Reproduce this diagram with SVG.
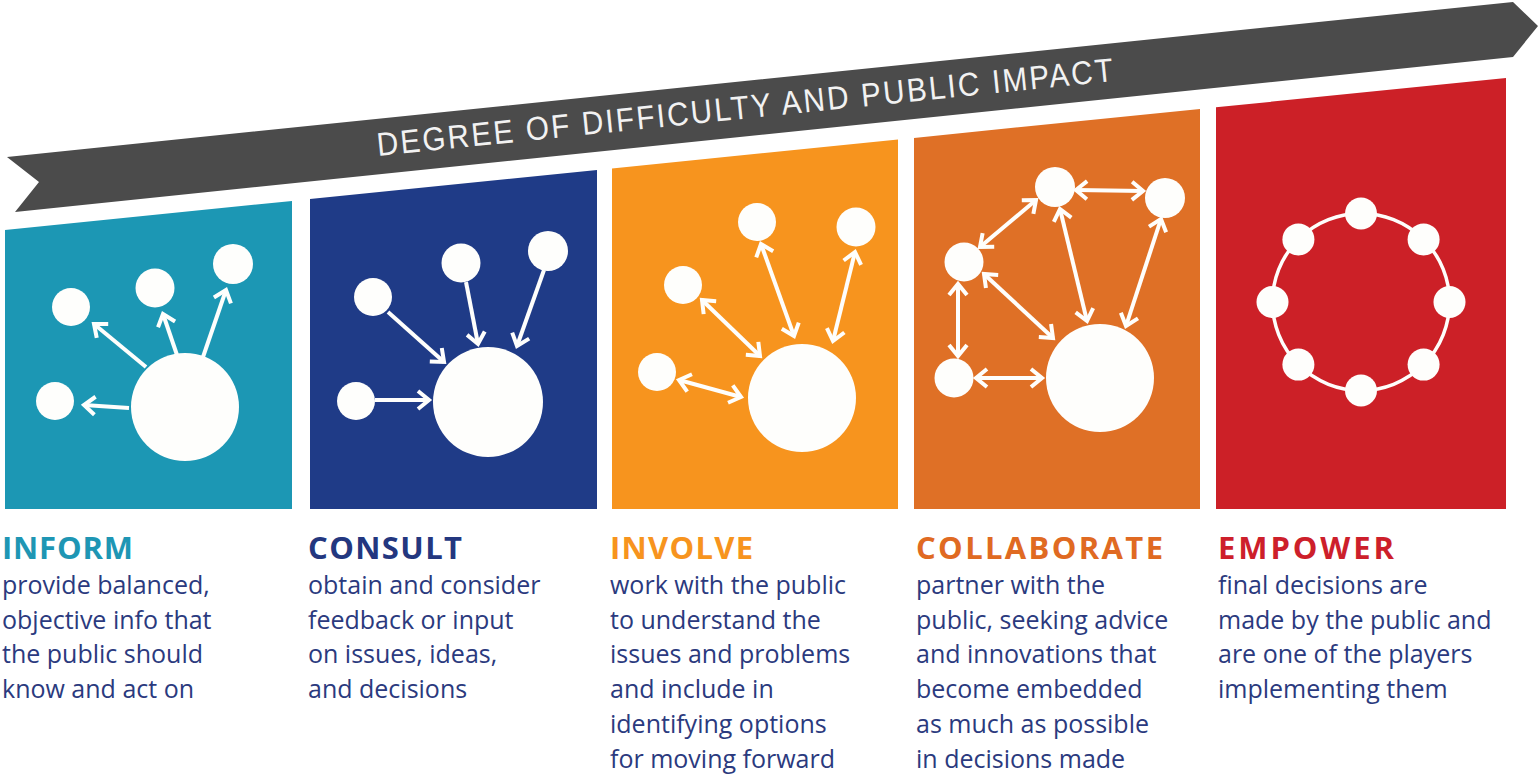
<svg xmlns="http://www.w3.org/2000/svg" width="1539" height="775" viewBox="0 0 1539 775">
<defs>
<style>
.panel-inform{fill:#1c97b4}
.panel-consult{fill:#1f3b87}
.panel-involve{fill:#f7941e}
.panel-collab{fill:#df7026}
.panel-empower{fill:#cc2027}
.dot{fill:#fefefc}
.arr{stroke:#fefefc;stroke-width:4;fill:none}
.one{marker-end:url(#ah)}
.two{marker-start:url(#ah);marker-end:url(#ah)}
.ring{fill:none;stroke:#fefefc;stroke-width:3.5}
.title{font-family:"Open Sans","Liberation Sans",sans-serif;font-weight:700;font-size:31px}
.body{font-family:"Open Sans","Liberation Sans",sans-serif;font-size:25px;fill:#2b3a7e}
.banner-text{font-family:"Liberation Sans",Arial,sans-serif;font-size:33px;fill:#f2f2f2}
</style>
<marker id="ah" viewBox="-14 -12 20 24" markerWidth="20" markerHeight="24" refX="0" refY="0" orient="auto-start-reverse" markerUnits="userSpaceOnUse">
<path d="M-11,-9 L0,0 L-11,9" fill="none" stroke="#fefefc" stroke-width="4"/>
</marker>
</defs>
<rect width="1539" height="775" fill="#ffffff"/>

<g id="banner">
<polygon points="7,157 1513,2 1538,26 1513,57 15,212 39,182" fill="#4b4b4b"/>
<text class="banner-text" transform="translate(378,156) rotate(-5.82) scale(0.9,1)" x="0" y="0" textLength="822" lengthAdjust="spacing">DEGREE OF DIFFICULTY AND PUBLIC IMPACT</text>
</g>

<g id="inform">
<polygon class="panel-inform" points="5,230 292,200.9 292,509 5,509"/>
<circle class="dot" cx="185" cy="407" r="54"/>
<circle class="dot" cx="55" cy="401" r="19"/>
<circle class="dot" cx="71" cy="307" r="19"/>
<circle class="dot" cx="155" cy="288" r="19.5"/>
<circle class="dot" cx="233" cy="264" r="20"/>
<text class="title" x="2" y="559" fill="#1e96b4" textLength="131" lengthAdjust="spacing">INFORM</text>
<text class="body" x="2" y="594">provide balanced,</text>
<text class="body" x="2" y="628.7">objective info that</text>
<text class="body" x="2" y="663.4">the public should</text>
<text class="body" x="2" y="698">know and act on</text>
</g>

<g id="consult">
<polygon class="panel-consult" points="310,199.1 597,170 597,509 310,509"/>
<circle class="dot" cx="488" cy="402" r="55"/>
<circle class="dot" cx="356" cy="401" r="19"/>
<circle class="dot" cx="373" cy="297" r="19"/>
<circle class="dot" cx="461" cy="263" r="19.5"/>
<circle class="dot" cx="548" cy="251" r="20"/>
<text class="title" x="308" y="559" fill="#23377f" textLength="154" lengthAdjust="spacing">CONSULT</text>
<text class="body" x="308" y="594">obtain and consider</text>
<text class="body" x="308" y="628.7">feedback or input</text>
<text class="body" x="308" y="663.4">on issues, ideas,</text>
<text class="body" x="308" y="698">and decisions</text>
</g>

<g id="involve">
<polygon class="panel-involve" points="612,168.5 898,139.5 898,509 612,509"/>
<circle class="dot" cx="802" cy="398" r="54"/>
<circle class="dot" cx="657" cy="372" r="19"/>
<circle class="dot" cx="683" cy="285" r="19"/>
<circle class="dot" cx="757" cy="222" r="19"/>
<circle class="dot" cx="856" cy="227" r="19.5"/>
<text class="title" x="610" y="559" fill="#f7941e" textLength="143" lengthAdjust="spacing">INVOLVE</text>
<text class="body" x="610" y="594">work with the public</text>
<text class="body" x="610" y="628.7">to understand the</text>
<text class="body" x="610" y="663.4">issues and problems</text>
<text class="body" x="610" y="698">and include in</text>
<text class="body" x="610" y="732.8">identifying options</text>
<text class="body" x="610" y="767.5">for moving forward</text>
</g>

<g id="collaborate">
<polygon class="panel-collab" points="914,137.9 1200,108.9 1200,509 914,509"/>
<circle class="dot" cx="1100" cy="378" r="54"/>
<circle class="dot" cx="1055" cy="187" r="20"/>
<circle class="dot" cx="1165" cy="198" r="20"/>
<circle class="dot" cx="964" cy="262" r="19.5"/>
<circle class="dot" cx="954" cy="378" r="19.5"/>
<text class="title" x="916" y="559" fill="#e06a22" textLength="247" lengthAdjust="spacing">COLLABORATE</text>
<text class="body" x="916" y="594">partner with the</text>
<text class="body" x="916" y="628.7">public, seeking advice</text>
<text class="body" x="916" y="663.4">and innovations that</text>
<text class="body" x="916" y="698">become embedded</text>
<text class="body" x="916" y="732.8">as much as possible</text>
<text class="body" x="916" y="767.5">in decisions made</text>
</g>

<g id="empower">
<polygon class="panel-empower" points="1216,107.3 1506,78 1506,509 1216,509"/>
<circle class="ring" cx="1361" cy="302" r="88.5"/>
<circle class="dot" cx="1361" cy="213.5" r="16"/>
<circle class="dot" cx="1423.6" cy="239.4" r="16"/>
<circle class="dot" cx="1449.5" cy="302" r="16"/>
<circle class="dot" cx="1423.6" cy="364.6" r="16"/>
<circle class="dot" cx="1361" cy="390.5" r="16"/>
<circle class="dot" cx="1298.4" cy="364.6" r="16"/>
<circle class="dot" cx="1272.5" cy="302" r="16"/>
<circle class="dot" cx="1298.4" cy="239.4" r="16"/>
<text class="title" x="1218" y="559" fill="#cd1f2b" textLength="176" lengthAdjust="spacing">EMPOWER</text>
<text class="body" x="1218" y="594">final decisions are</text>
<text class="body" x="1218" y="628.7">made by the public and</text>
<text class="body" x="1218" y="663.4">are one of the players</text>
<text class="body" x="1218" y="698">implementing them</text>
</g>

<g id="connectors">
<line class="arr one" x1="129" y1="408" x2="84" y2="405"/>
<line class="arr one" x1="146" y1="367" x2="94" y2="324"/>
<line class="arr one" x1="177" y1="355" x2="163" y2="314"/>
<line class="arr one" x1="203" y1="357" x2="226" y2="290"/>
<line class="arr one" x1="375" y1="400" x2="429" y2="400"/>
<line class="arr one" x1="388" y1="312" x2="444" y2="362"/>
<line class="arr one" x1="466" y1="282" x2="478" y2="344"/>
<line class="arr one" x1="544" y1="270" x2="517" y2="346"/>
<line class="arr two" x1="679" y1="380" x2="741" y2="397"/>
<line class="arr two" x1="702" y1="300" x2="760" y2="356"/>
<line class="arr two" x1="761" y1="244" x2="794" y2="336"/>
<line class="arr two" x1="855" y1="252" x2="833" y2="341"/>
<line class="arr two" x1="1076" y1="190" x2="1143" y2="191"/>
<line class="arr two" x1="980" y1="247" x2="1036" y2="200"/>
<line class="arr two" x1="1060" y1="209" x2="1087" y2="321"/>
<line class="arr two" x1="1161" y1="219" x2="1126" y2="326"/>
<line class="arr two" x1="984" y1="274" x2="1053" y2="338"/>
<line class="arr two" x1="958" y1="284" x2="958" y2="356"/>
<line class="arr two" x1="976" y1="378" x2="1042" y2="378"/>
</g>
</svg>
